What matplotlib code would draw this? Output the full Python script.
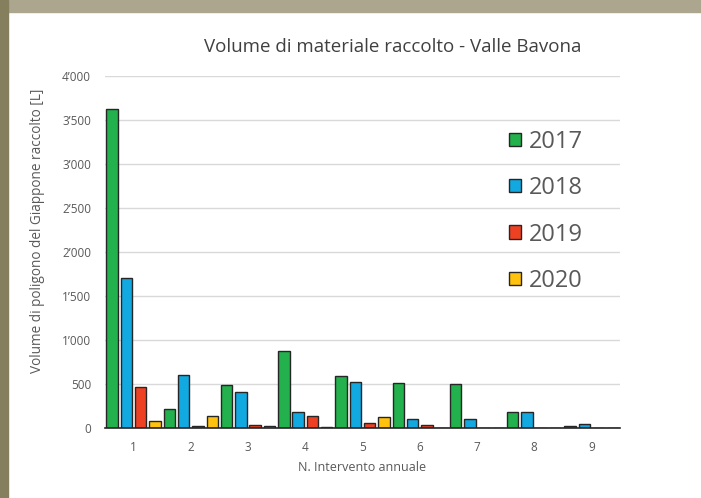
import matplotlib.pyplot as plt
import numpy as np
from matplotlib.patches import Rectangle

# valori (litri)
interventi = [1, 2, 3, 4, 5, 6, 7, 8, 9]
anni = ['2017', '2018', '2019', '2020']
v2017 = [3620, 220, 490, 875, 590, 510, 505, 180, 30]
v2018 = [1710, 600, 410, 190, 520, 110, 100, 180, 50]
v2019 = [465, 30, 40, 135, 55, 37, 0, 0, 0]
v2020 = [85, 140, 30, 10, 130, 0, 0, 0, 0]
colori = ['#22B14C', '#12A8E0', '#EE4123', '#FFC20E']
yticks = [0, 500, 1000, 1500, 2000, 2500, 3000, 3500, 4000]

plt.rcParams['font.family'] = ['Open Sans', 'DejaVu Sans']
grigio = '#595959'

fig = plt.figure(figsize=(7.01, 4.98), dpi=100)
# cornice
fig.patches.append(Rectangle((0, 1 - 12/498), 1, 12/498, transform=fig.transFigure,
                             color='#ADA68E', zorder=0))
fig.patches.append(Rectangle((0, 0), 7.5/701, 1, transform=fig.transFigure,
                             color='#857F5E', zorder=0))

ax = fig.add_axes([105/701, 1 - 428.3/498, 515/701, 352.6/498])
x = np.array(interventi)
serie = [v2017, v2018, v2019, v2020]
offs = [-0.375, -0.125, 0.125, 0.375]
for s, o, c, a in zip(serie, offs, colori, anni):
    ax.bar(x + o, s, width=0.2, color=c, edgecolor='#262626', linewidth=1.0,
           label=a, zorder=3)

ax.set_xlim(0.5, 9.5)
ax.set_ylim(0, 4000)
ax.set_yticks(yticks)
ax.set_yticklabels([f'{v:,}'.replace(',', '\u2019') for v in yticks])
ax.set_xticks(interventi)
ax.tick_params(length=0, colors=grigio, labelsize=8.5)
ax.tick_params(axis='y', pad=10)
ax.tick_params(axis='x', pad=9)
ax.grid(axis='y', color='#D9D9D9', linewidth=1, zorder=0)
for sp in ['top', 'right', 'left']:
    ax.spines[sp].set_visible(False)
ax.spines['bottom'].set_color('#262626')
ax.spines['bottom'].set_linewidth(1.2)
ax.spines['bottom'].set_zorder(4)

fig.text(393/701, 1 - 47/498, 'Volume di materiale raccolto - Valle Bavona',
         ha='center', va='center', fontsize=13.5, color='#404040')
fig.text(38/701, 1 - 231/498, 'Volume di poligono del Giappone raccolto [L]',
         rotation=90, ha='center', va='center', fontsize=9.8, color=grigio)
fig.text(362/701, 1 - 467/498, 'N. Intervento annuale', ha='center', va='center',
         fontsize=9, color=grigio)

leg = ax.legend(loc='upper left', bbox_to_anchor=(0.785, 0.847), frameon=False,
                fontsize=17, labelcolor=grigio, handlelength=0.5, handleheight=0.5,
                handletextpad=0.35, labelspacing=0.95, borderpad=0, borderaxespad=0)

fig.savefig('out.png', dpi=100)
